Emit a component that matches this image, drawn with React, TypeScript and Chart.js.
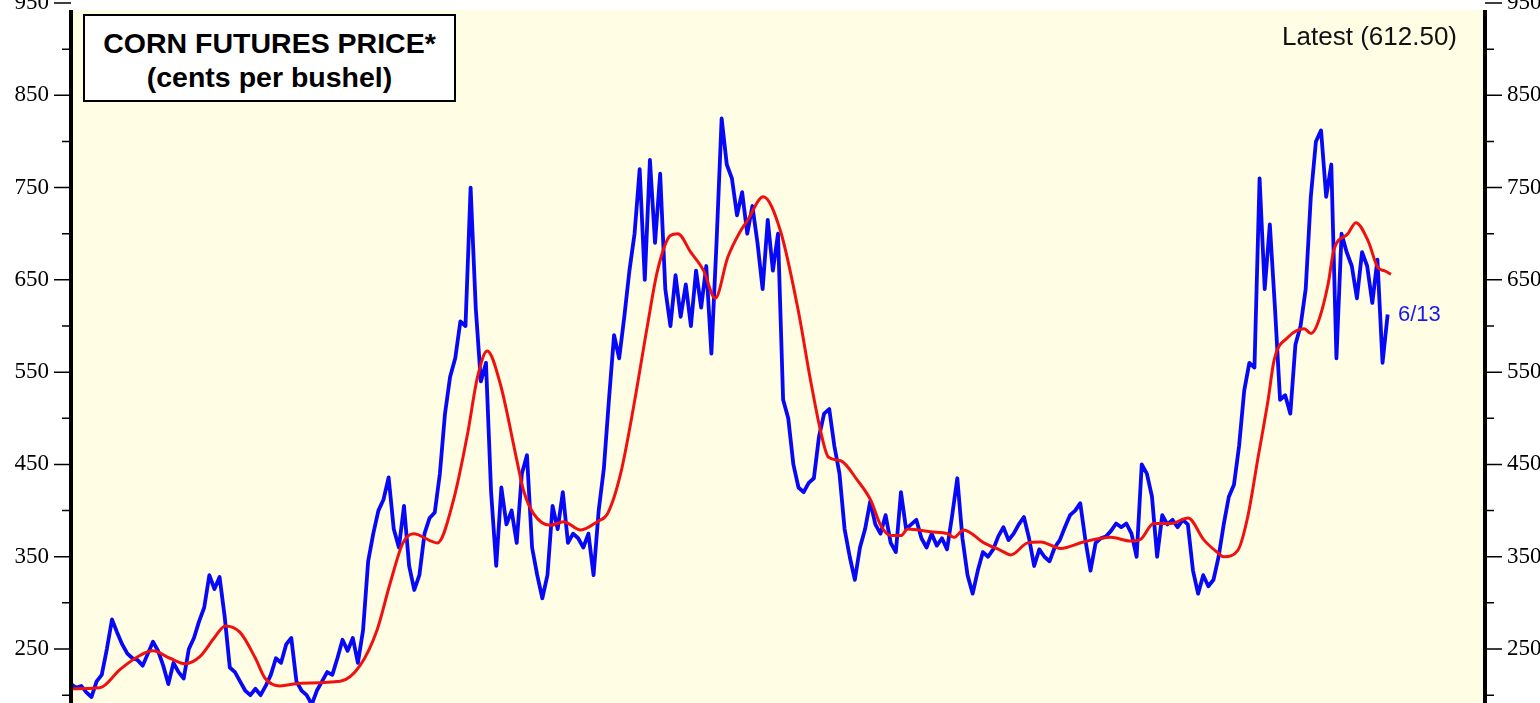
import React, { useEffect, useRef } from "react";
import { Chart, registerables } from "chart.js";

Chart.register(...registerables);

// ---- data ----
const priceStartYear = 2002;
const priceStepYears = 1 / 12; // monthly readings
const priceValues = [
  212, 208, 210, 203, 198, 215, 222, 250, 282, 268, 255, 245,
  240, 238, 232, 245, 258, 248, 232, 212, 235, 225, 218, 250,
  262, 280, 295, 330, 315, 328, 285, 230, 225, 215, 205, 200,
  207, 200, 210, 222, 240, 235, 255, 262, 215, 205, 200, 190,
  205, 215, 225, 222, 240, 260, 248, 262, 235, 270, 345, 375,
  400, 412, 436, 380, 360, 405, 340, 314, 330, 375, 392, 398,
  440, 505, 545, 565, 605, 600, 750, 620, 540, 560, 420, 340,
  425, 385, 400, 365, 440, 460, 360, 330, 305, 330, 405, 380,
  420, 365, 375, 370, 360, 375, 330, 400, 445, 520, 590, 565,
  610, 660, 700, 770, 650, 780, 690, 765, 640, 600, 655, 610,
  645, 600, 660, 620, 665, 570, 690, 825, 775, 760, 720, 745,
  700, 730, 690, 640, 715, 660, 700, 520, 500, 450, 425, 420,
  430, 435, 480, 505, 510, 470, 440, 380, 350, 325, 360, 380,
  410, 385, 375, 395, 365, 355, 420, 380, 385, 390, 370, 360,
  375, 362, 370, 358, 395, 435, 370, 330, 310, 335, 355, 350,
  358, 372, 382, 368, 375, 385, 393, 370, 340, 358, 350, 345,
  360, 368, 382, 395, 400, 408, 368, 335, 365, 370, 372, 378,
  386, 382, 386, 375, 350, 450, 440, 415, 350, 395, 385, 390,
  382, 390, 385, 335, 310, 330, 318, 325, 350, 385, 415, 428,
  470, 530, 560, 555, 760, 640, 710, 620, 520, 525, 505, 580,
  600, 640, 740, 800, 812, 740, 775, 565, 700, 680, 665, 630,
  680, 665, 625, 672, 560, 612.5,
];

const avgYears = [
  2002.02, 2002.47, 2002.8, 2003.12, 2003.33, 2003.61, 2003.86, 2004.1,
  2004.34, 2004.51, 2004.75, 2005.0, 2005.16, 2005.4, 2005.73, 2006.38,
  2006.7, 2006.98, 2007.19, 2007.4, 2007.57, 2007.96, 2008.22, 2008.45,
  2008.61, 2008.77, 2008.98, 2009.26, 2009.36, 2009.52, 2009.8, 2010.01,
  2010.29, 2010.56, 2010.73, 2010.94, 2011.15, 2011.38, 2011.54, 2011.75,
  2011.87, 2012.08, 2012.29, 2012.48, 2012.68, 2012.89, 2013.0, 2013.26,
  2013.54, 2013.82, 2014.03, 2014.19, 2014.32, 2014.52, 2014.79, 2015.01,
  2015.17, 2015.33, 2015.5, 2015.61, 2015.98, 2016.26, 2016.36, 2016.52,
  2016.85, 2017.12, 2017.29, 2017.56, 2017.77, 2018.1, 2018.47, 2018.91,
  2019.24, 2019.4, 2019.61, 2019.89, 2020.17, 2020.43, 2020.66, 2020.75,
  2020.98, 2021.14, 2021.31, 2021.47, 2021.57, 2021.8, 2022.06, 2022.17,
  2022.28, 2022.45, 2022.54, 2022.77, 2022.9, 2023.1, 2023.26, 2023.36,
  2023.47,
];
const avgValues = [
  207, 208, 228, 243, 248, 240, 234, 242,
  263, 275, 268, 240, 218, 210, 213, 215,
  232, 271, 321, 365, 375, 365, 411, 483,
  544, 573, 538, 452, 422, 397, 384, 388,
  379, 388, 397, 440, 512, 602, 660, 698,
  700, 680, 660, 630, 674, 703, 714, 740,
  703, 620, 541, 487, 458, 454, 433, 411,
  384, 373, 373, 380, 377, 375, 371, 379,
  365, 357, 352, 365, 366, 359, 366, 371,
  367, 369, 386, 386, 392, 368, 354, 350,
  357, 393, 458, 519, 563, 588, 597, 592,
  603, 646, 682, 700, 712, 692, 663, 660,
  656,
];

const tickValues = [200, 250, 300, 350, 400, 450, 500, 550, 600, 650, 700, 750, 800, 850, 900, 950];
const labeledTicks = [250, 350, 450, 550, 650, 750, 850, 950];

const yMin = 191.5;
const yMax = 950;
const xMin = 2002;
const xMax = 2025;

const W = 1540;
const H = 703;

const framePlugin = {
  id: "frame",
  beforeDraw(chart: any) {
    const { ctx, chartArea } = chart;
    ctx.save();
    ctx.fillStyle = "#ffffff";
    ctx.fillRect(0, 0, W, H);
    ctx.fillStyle = "#FFFDE4";
    ctx.fillRect(chartArea.left, chartArea.top + 7, chartArea.right - chartArea.left, chartArea.bottom - chartArea.top - 7);
    ctx.restore();
  },
  afterDraw(chart: any) {
    const { ctx, chartArea } = chart;
    const ys = chart.scales.y;
    ctx.save();
    ctx.strokeStyle = "#000";
    ctx.lineWidth = 4;
    ctx.beginPath();
    ctx.moveTo(chartArea.left, chartArea.top + 7);
    ctx.lineTo(chartArea.left, chartArea.bottom);
    ctx.moveTo(chartArea.right, chartArea.top + 7);
    ctx.lineTo(chartArea.right, chartArea.bottom);
    ctx.stroke();
    ctx.lineWidth = 1.5;
    ctx.beginPath();
    for (const v of tickValues) {
      const y = ys.getPixelForValue(v);
      const len = labeledTicks.includes(v) ? 17 : 9;
      ctx.moveTo(chartArea.left - len, y);
      ctx.lineTo(chartArea.left, y);
      ctx.moveTo(chartArea.right, y);
      ctx.lineTo(chartArea.right + len, y);
    }
    ctx.stroke();
    ctx.restore();
  },
};

function yAxis(position: "left" | "right", width: number) {
  return {
    type: "linear" as const,
    position,
    min: yMin,
    max: yMax,
    grid: { display: false, drawTicks: false },
    border: { display: false },
    afterBuildTicks: (s: any) => {
      s.ticks = tickValues.map((v) => ({ value: v }));
    },
    afterFit: (s: any) => {
      s.width = width;
      s.paddingTop = 0;
      s.paddingBottom = 0;
    },
    ticks: {
      autoSkip: false,
      padding: 22,
      color: "#000",
      font: { family: "'Liberation Serif', 'DejaVu Serif', serif", size: 23 },
      callback: (v: any) => (labeledTicks.includes(Number(v)) ? String(v) : ""),
    },
  };
}

export default function App() {
  const ref = useRef<HTMLCanvasElement | null>(null);

  useEffect(() => {
    if (!ref.current) return;
    const chart = new Chart(ref.current, {
      type: "line",
      data: {
        datasets: [
          {
            label: "Moving average",
            data: avgYears.map((x, i) => ({ x, y: avgValues[i] })),
            borderColor: "#f01010",
            borderWidth: 3,
            pointRadius: 0,
            cubicInterpolationMode: "monotone",
            yAxisID: "y",
          },
          {
            label: "Corn futures",
            data: priceValues.map((v, i) => ({ x: priceStartYear + i * priceStepYears, y: v })),
            borderColor: "#0808f8",
            borderWidth: 3.8,
            pointRadius: 0,
            tension: 0,
            borderJoinStyle: "round",
            yAxisID: "y",
          },
        ],
      },
      options: {
        responsive: false,
        animation: false,
        devicePixelRatio: 1,
        layout: { padding: { top: 3, left: 0, right: 0, bottom: 0 } },
        plugins: { legend: { display: false }, tooltip: { enabled: false } },
        scales: {
          x: { type: "linear", min: xMin, max: xMax, display: false },
          y: yAxis("left", 71) as any,
          y2: yAxis("right", 55) as any,
        },
      },
      plugins: [framePlugin],
    });
    return () => chart.destroy();
  }, []);

  return (
    <div style={{ position: "absolute", left: 0, top: 0, width: W, height: H, overflow: "hidden", background: "#fff" }}>
      <canvas ref={ref} width={W} height={H} style={{ position: "absolute", left: 0, top: 0 }} />
      <div
        style={{
          position: "absolute",
          left: 83,
          top: 14,
          width: 373,
          height: 88,
          boxSizing: "border-box",
          border: "2px solid #000",
          background: "#fff",
          paddingTop: 10,
          textAlign: "center",
          fontFamily: "'Liberation Sans', Arial, sans-serif",
          fontWeight: "bold",
          fontSize: 28.5,
          lineHeight: "34px",
          color: "#000",
        }}
      >
        <div>CORN FUTURES PRICE*</div>
        <div>(cents per bushel)</div>
      </div>
      <div
        style={{
          position: "absolute",
          right: 83,
          top: 21,
          fontFamily: "'Liberation Sans', Arial, sans-serif",
          fontSize: 26,
          lineHeight: "30px",
          color: "#111",
          whiteSpace: "nowrap",
        }}
      >
        Latest (612.50)
      </div>
      <div
        style={{
          position: "absolute",
          left: 1398,
          top: 301,
          fontFamily: "'Liberation Sans', Arial, sans-serif",
          fontSize: 22,
          lineHeight: "26px",
          color: "#1a1ae6",
          whiteSpace: "nowrap",
        }}
      >
        6/13
      </div>
    </div>
  );
}
